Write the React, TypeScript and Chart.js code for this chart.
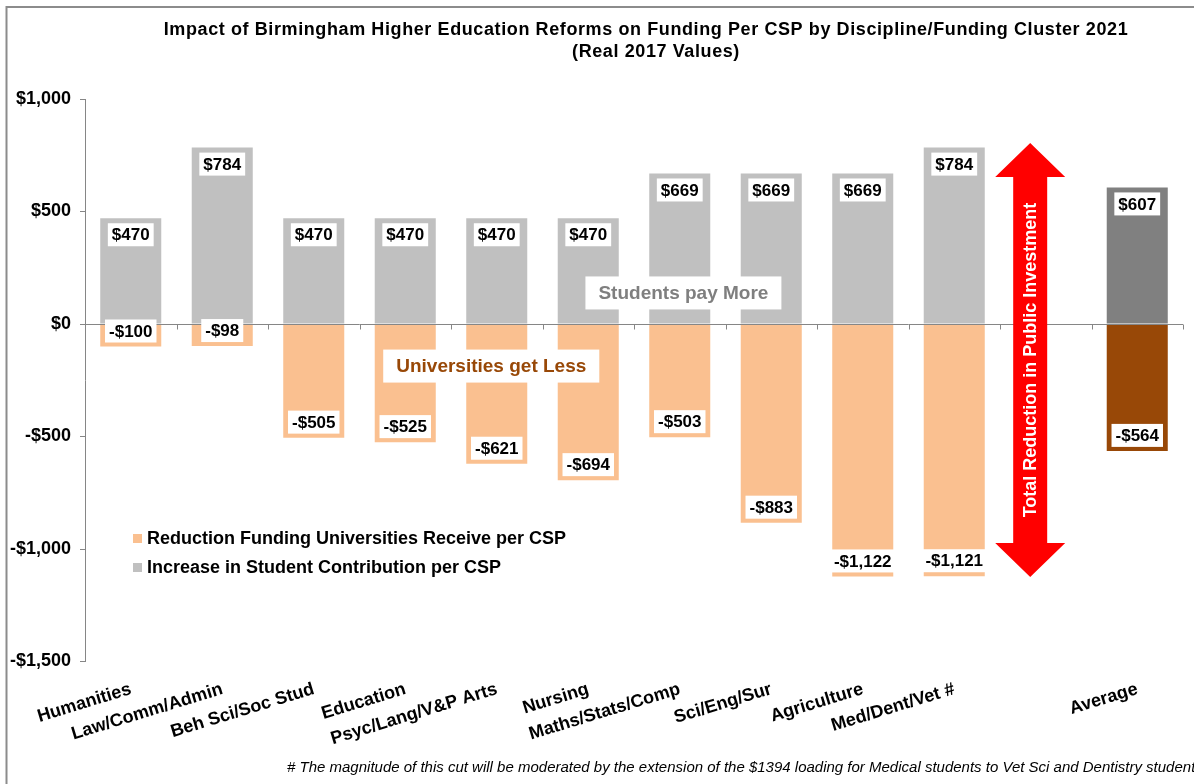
import React, { useEffect, useRef } from "react";
import { Chart, registerables } from "chart.js";

Chart.register(...registerables);

const FONT = "'Liberation Sans', Arial, Helvetica, sans-serif";

const categories = [
  "Humanities",
  "Law/Comm/Admin",
  "Beh Sci/Soc Stud",
  "Education",
  "Psyc/Lang/V&P Arts",
  "Nursing",
  "Maths/Stats/Comp",
  "Sci/Eng/Sur",
  "Agriculture",
  "Med/Dent/Vet #",
  "",
  "Average",
];
const studentIncrease = [470, 784, 470, 470, 470, 470, 669, 669, 669, 784, null, 607];
const universityReduction = [-100, -98, -505, -525, -621, -694, -503, -883, -1122, -1121, null, -564];
const yTickValues = [-1500, -1000, -500, 0, 500, 1000];

const seriesNames = [
  "Reduction Funding Universities Receive per CSP",
  "Increase in Student Contribution per CSP",
];
const titleLines = [
  "Impact of Birmingham Higher Education Reforms on Funding Per CSP by Discipline/Funding Cluster 2021",
  "(Real 2017 Values)",
];
const footnote =
  "# The magnitude of this cut will be moderated by the extension of the $1394 loading for Medical students to Vet Sci and Dentistry students";

const annotations = [
  { text: "Students pay More", xIndex: 6.04, y: 138, color: "#7f7f7f" },
  { text: "Universities get Less", xIndex: 3.94, y: -187, color: "#984807" },
];
const arrowSpec = { xIndex: 9.83, top: 804, bottom: -1124, text: "Total Reduction in Public Investment" };

const ORANGE = "#FAC090";
const GRAY = "#C0C0C0";
const DARK_GRAY = "#808080";
const BROWN = "#984807";

const fmt = (v: number) => (v < 0 ? "-$" : "$") + Math.abs(v).toLocaleString("en-US");

const overlayPlugin = {
  id: "overlay",
  afterDatasetsDraw(chart: any) {
    const ctx = chart.ctx;
    const area = chart.chartArea;
    const xs = chart.scales.x;
    const ys = chart.scales.y;
    const y0 = ys.getPixelForValue(0);
    ctx.save();

    // zero line with ticks at category boundaries
    ctx.strokeStyle = "#868686";
    ctx.lineWidth = 1;
    ctx.beginPath();
    ctx.moveTo(area.left, Math.round(y0) + 0.5);
    ctx.lineTo(area.right, Math.round(y0) + 0.5);
    const n = categories.length;
    for (let i = 1; i <= n; i++) {
      const bx = Math.round(xs.getPixelForValue(i - 0.5)) + 0.5;
      ctx.moveTo(bx, Math.round(y0) + 0.5);
      ctx.lineTo(bx, Math.round(y0) + 5.5);
    }
    ctx.stroke();

    // data labels
    ctx.font = `bold 17px ${FONT}`;
    ctx.textAlign = "center";
    ctx.textBaseline = "middle";
    chart.data.datasets.forEach((ds: any, di: number) => {
      const meta = chart.getDatasetMeta(di);
      meta.data.forEach((bar: any, j: number) => {
        const v = ds.data[j];
        if (v == null) return;
        const text = fmt(v);
        const w = ctx.measureText(text).width + 8;
        const h = 23;
        let top;
        if (v >= 0) top = bar.y + 5;
        else top = bar.y - 4 - h;
        ctx.fillStyle = "#ffffff";
        ctx.fillRect(bar.x - w / 2, top, w, h);
        ctx.fillStyle = "#000000";
        ctx.fillText(text, bar.x, top + h / 2 + 1);
      });
    });

    // annotations
    ctx.font = `bold 19px ${FONT}`;
    annotations.forEach((a) => {
      const x = xs.getPixelForValue(a.xIndex);
      const y = ys.getPixelForValue(a.y);
      const w = ctx.measureText(a.text).width + 26;
      const h = 33;
      ctx.fillStyle = "#ffffff";
      ctx.fillRect(x - w / 2, y - h / 2, w, h);
      ctx.fillStyle = a.color;
      ctx.fillText(a.text, x, y + 1);
    });

    // double arrow
    {
      const ax = xs.getPixelForValue(arrowSpec.xIndex);
      const yt = ys.getPixelForValue(arrowSpec.top);
      const yb = ys.getPixelForValue(arrowSpec.bottom);
      const headW = 35;
      const shaftW = 17;
      const headL = 34;
      ctx.fillStyle = "#FF0000";
      ctx.beginPath();
      ctx.moveTo(ax, yt);
      ctx.lineTo(ax + headW, yt + headL);
      ctx.lineTo(ax + shaftW, yt + headL);
      ctx.lineTo(ax + shaftW, yb - headL);
      ctx.lineTo(ax + headW, yb - headL);
      ctx.lineTo(ax, yb);
      ctx.lineTo(ax - headW, yb - headL);
      ctx.lineTo(ax - shaftW, yb - headL);
      ctx.lineTo(ax - shaftW, yt + headL);
      ctx.lineTo(ax - headW, yt + headL);
      ctx.closePath();
      ctx.fill();
      ctx.save();
      ctx.translate(ax + 1, (yt + yb) / 2);
      ctx.rotate(-Math.PI / 2);
      ctx.font = `bold 18px ${FONT}`;
      ctx.fillStyle = "#ffffff";
      ctx.textAlign = "center";
      ctx.textBaseline = "middle";
      ctx.fillText(arrowSpec.text, 0, 0);
      ctx.restore();
    }

    // legend (inside plot)
    ctx.font = `bold 18px ${FONT}`;
    ctx.textAlign = "left";
    const legendColors = [chart.data.datasets[0].legendColor, chart.data.datasets[1].legendColor];
    const legendX = area.left + 48;
    const legendY = [538.5, 567.5];
    seriesNames.forEach((name, i) => {
      ctx.fillStyle = legendColors[i];
      ctx.fillRect(legendX, legendY[i] - 4.5, 9, 9);
      ctx.fillStyle = "#000000";
      ctx.fillText(name, legendX + 14, legendY[i] + 1);
    });

    // title
    ctx.save();
    ctx.font = `bold 18px ${FONT}`;
    ctx.textAlign = "center";
    ctx.textBaseline = "alphabetic";
    ctx.fillStyle = "#000000";
    try {
      (ctx as any).letterSpacing = "0.6px";
    } catch (e) {}
    ctx.fillText(titleLines[0], 646, 35);
    ctx.fillText(titleLines[1], 656, 57);
    ctx.restore();

    // footnote
    ctx.font = `italic 15px ${FONT}`;
    ctx.textAlign = "left";
    ctx.textBaseline = "alphabetic";
    ctx.fillStyle = "#000000";
    ctx.fillText(footnote, 287, 772);

    // outer frame
    ctx.strokeStyle = "#8c8c8c";
    ctx.lineWidth = 2;
    ctx.beginPath();
    ctx.moveTo(6.5, 900);
    ctx.lineTo(6.5, 7);
    ctx.lineTo(1300, 7);
    ctx.stroke();

    ctx.restore();
  },
};

export default function App() {
  const ref = useRef<HTMLCanvasElement | null>(null);
  useEffect(() => {
    if (!ref.current) return;
    const chart = new Chart(ref.current, {
      type: "bar",
      data: {
        labels: categories,
        datasets: [
          {
            label: seriesNames[0],
            data: universityReduction as any,
            backgroundColor: universityReduction.map((_, i) => (i === categories.length - 1 ? BROWN : ORANGE)),
            legendColor: ORANGE,
            categoryPercentage: 1,
            barPercentage: 0.667,
          } as any,
          {
            label: seriesNames[1],
            data: studentIncrease as any,
            backgroundColor: studentIncrease.map((_, i) => (i === categories.length - 1 ? DARK_GRAY : GRAY)),
            legendColor: GRAY,
            categoryPercentage: 1,
            barPercentage: 0.667,
          } as any,
        ],
      },
      options: {
        animation: false,
        responsive: false,
        maintainAspectRatio: false,
        devicePixelRatio: 1,
        layout: { padding: { top: 99, right: 11, left: 0, bottom: 0 } },
        plugins: {
          legend: { display: false },
          tooltip: { enabled: false },
          title: { display: false },
        },
        scales: {
          x: {
            stacked: true,
            grid: { display: false },
            border: { display: false },
            ticks: {
              autoSkip: false,
              minRotation: 17,
              maxRotation: 17,
              padding: 9,
              color: "#000000",
              font: { family: FONT, size: 18, weight: "bold" },
            },
            afterFit: (s: any) => {
              s.height = 122.5;
            },
          },
          y: {
            stacked: true,
            min: -1500,
            max: 1000,
            afterBuildTicks: (s: any) => {
              s.ticks = yTickValues.map((v) => ({ value: v }));
            },
            ticks: {
              padding: 9,
              color: "#000000",
              font: { family: FONT, size: 18, weight: "bold" },
              callback: (v: any) => fmt(Number(v)),
            },
            grid: { drawOnChartArea: false, tickLength: 5, color: "#868686" },
            border: { display: true, color: "#868686" },
            afterFit: (s: any) => {
              s.width = 85;
            },
          },
        },
      } as any,
      plugins: [overlayPlugin],
    });
    return () => chart.destroy();
  }, []);
  return (
    <div style={{ position: "fixed", left: 0, top: 0, width: 1194, height: 784, background: "#ffffff", overflow: "hidden" }}>
      <canvas ref={ref} width={1194} height={784} style={{ display: "block" }} />
    </div>
  );
}
